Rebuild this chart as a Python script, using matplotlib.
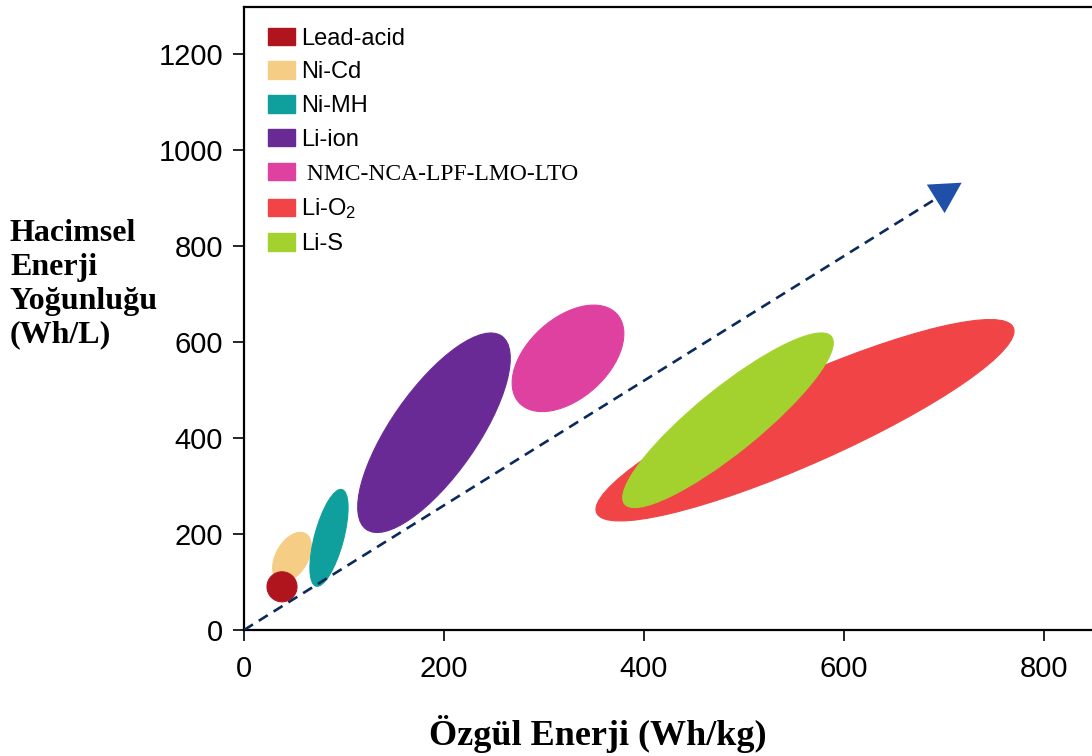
import matplotlib
matplotlib.use("Agg")
import matplotlib.pyplot as plt
from matplotlib.patches import Ellipse, Patch
from matplotlib.transforms import Affine2D

plt.rcParams['font.family'] = ['Liberation Sans', 'DejaVu Sans']
plt.rcParams['mathtext.fontset'] = 'custom'
plt.rcParams['mathtext.rm'] = 'Liberation Sans'
plt.rcParams['mathtext.it'] = 'Liberation Sans:italic'

# battery regions: centre (Wh/kg, Wh/L), size in screen units, tilt in degrees
names = ['Lead-acid', 'Ni-Cd', 'Ni-MH', 'Li-ion', ' NMC-NCA-LPF-LMO-LTO', 'Li-O$_2$', 'Li-S']
colors = ['#b0151e', '#f6cd84', '#0f9f9c', '#6a2a96', '#df41a1', '#f04446', '#a3d22e']
cx = [38, 48, 85, 190, 324, 561, 484]
cy = [90, 152, 192, 411, 566, 437, 437]
major = [30, 54, 100, 236, 132, 456, 266]
minor = [30, 32, 29, 86, 80, 86, 64]
tilt = [0, 60, 75, 55, 42, 24, 39]
order = [5, 2, 3, 3, 3, 2, 4]   # Li-S sits on Li-O2, lead-acid on Ni-Cd

arrow_tip = (720, 935)

xmax, ymax = 848, 1298

fig = plt.figure(figsize=(10.92, 7.56), dpi=100)
ax = fig.add_axes([244/1092, 126/756, 848/1092, 623/756])
ax.set_xlim(0, xmax)
ax.set_ylim(0, ymax)

# scale so the ellipses keep their shape on screen
pos = ax.get_position()
w_in = pos.width * fig.get_figwidth()
h_in = pos.height * fig.get_figheight()
k = (ymax / h_in) / (xmax / w_in)
vis = Affine2D().scale(1, k) + ax.transData

for i in range(len(names)):
    e = Ellipse((cx[i], cy[i] / k), major[i], minor[i], angle=tilt[i],
                facecolor=colors[i], edgecolor=colors[i], lw=0.8,
                transform=vis, zorder=order[i])
    ax.add_patch(e)

# dashed trend arrow
frac = 0.975
bx, by = arrow_tip[0] * frac, arrow_tip[1] * frac
ax.plot([0, bx], [0, by], color='#0b2a5c', lw=1.9, dashes=(4, 2.6), zorder=6)
ax.annotate('', xy=arrow_tip, xytext=(bx * 0.99, by * 0.99),
            arrowprops=dict(arrowstyle='-|>,head_length=1.0,head_width=0.55',
                            color='#1f4fa8', lw=0, mutation_scale=22), zorder=7)

ax.set_xticks(range(0, 801, 200))
ax.set_yticks(range(0, 1201, 200))
ax.tick_params(direction='out', length=8, width=1.2, labelsize=21, pad=7)
ax.tick_params(axis='x', pad=10)
for s in ['left', 'bottom', 'top']:
    ax.spines[s].set_linewidth(1.6)
ax.spines['right'].set_visible(False)

ax.set_xlabel('Özgül Enerji (Wh/kg)', family='Liberation Serif', weight='bold',
              fontsize=26, va='center')
ax.xaxis.set_label_coords(0.417, -0.167)
ax.set_ylabel('Hacimsel\nEnerji\nYoğunluğu\n(Wh/L)', family='Liberation Serif',
              weight='bold', fontsize=23, rotation=0, ha='left', va='center',
              multialignment='left', linespacing=1.22)
ax.yaxis.set_label_coords(-0.276, 0.555)

handles = [Patch(facecolor=c, edgecolor=c) for c in colors]
leg = ax.legend(handles, names, loc='upper left', bbox_to_anchor=(0.028, 0.967),
                frameon=False, fontsize=17, borderpad=0, borderaxespad=0,
                handlelength=1.15, handleheight=0.75, handletextpad=0.25,
                labelspacing=0.5)
leg.get_texts()[4].set_fontfamily('Liberation Serif')

fig.savefig('out.png', dpi=100)
